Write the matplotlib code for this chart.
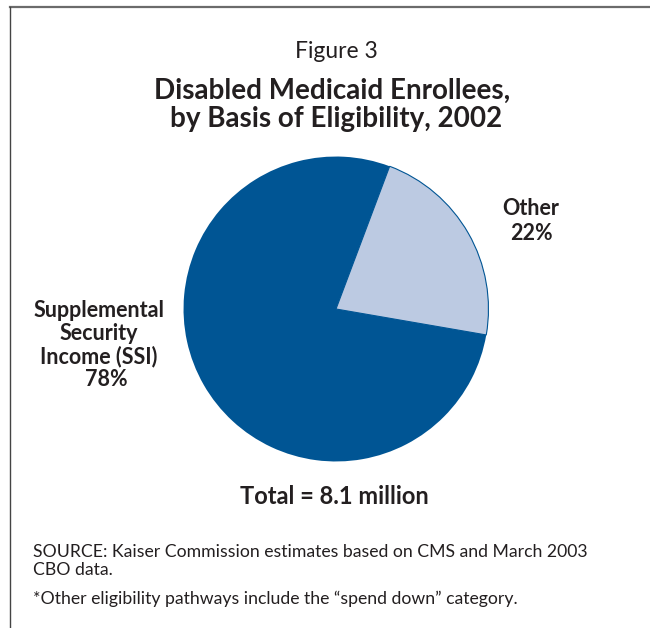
import matplotlib
matplotlib.use('Agg')
import matplotlib.pyplot as plt
from matplotlib.lines import Line2D

plt.rcParams['font.family'] = ['Lato', 'DejaVu Sans']

# data
labels = ['Other', 'Supplemental\nSecurity\nIncome (SSI)']
shares = [22, 78]
colors = ['#bccae2', '#005594']

W, H = 650, 628
fig = plt.figure(figsize=(W / 100, H / 100), dpi=100)
fig.patch.set_facecolor('white')

def px(x, y):
    # pixel coords (from top-left) -> figure fraction
    return x / W, 1 - y / H

# frame lines (top and left only, the rest is cropped)
fig.add_artist(Line2D([10 / W, 1], [1 - 6.5 / H] * 2, color='#6b6b6b', lw=1.6,
                      transform=fig.transFigure))
fig.add_artist(Line2D([10 / W] * 2, [0, 1 - 6.5 / H], color='#444444', lw=1.0,
                      transform=fig.transFigure))

# pie: centre (336, 309), radius 154 px
cx, cy, r = 336, 309, 154
ax = fig.add_axes([(cx - r) / W, (H - cy - r) / H, 2 * r / W, 2 * r / H])
wedges, _ = ax.pie(shares, colors=colors, startangle=-9.8, counterclock=True,
                   radius=1, wedgeprops=dict(edgecolor='none'))
wedges[0].set_edgecolor('#005594')
wedges[0].set_linewidth(0.8)
ax.set_xlim(-1.01, 1.01)
ax.set_ylim(-1.01, 1.01)
ax.set_aspect('equal')
ax.axis('off')

tc = '#231f20'
fig.text(*px(336, 52), 'Figure 3', ha='center', va='center', fontsize=16.5,
         color=tc)
fig.text(*px(332, 91), 'Disabled Medicaid Enrollees,', ha='center', va='center',
         fontsize=20, fontweight='bold', color=tc)
fig.text(*px(336, 119), 'by Basis of Eligibility, 2002', ha='center', va='center',
         fontsize=20, fontweight='bold', color=tc)

fig.text(*px(531, 221), f'{labels[0]}\n{shares[0]}%', ha='center', va='center',
         fontsize=15.5, fontweight='bold', color=tc, linespacing=1.2)
fig.text(*px(99, 334), labels[1], ha='center', va='center',
         fontsize=15.5, fontweight='bold', color=tc, linespacing=1.1)
fig.text(*px(106, 380), f'{shares[1]}%', ha='center', va='center',
         fontsize=15.5, fontweight='bold', color=tc)

fig.text(*px(334, 497), 'Total = 8.1 million', ha='center', va='center',
         fontsize=17, fontweight='bold', color=tc)

fig.text(*px(33, 561), 'SOURCE: Kaiser Commission estimates based on CMS and March 2003\nCBO data.',
         ha='left', va='center', fontsize=12.7, color=tc, linespacing=1.1)
fig.text(*px(33, 599), '*Other eligibility pathways include the \u201cspend down\u201d category.',
         ha='left', va='center', fontsize=12.7, color=tc)

fig.savefig('out.png', dpi=100, facecolor='white')
